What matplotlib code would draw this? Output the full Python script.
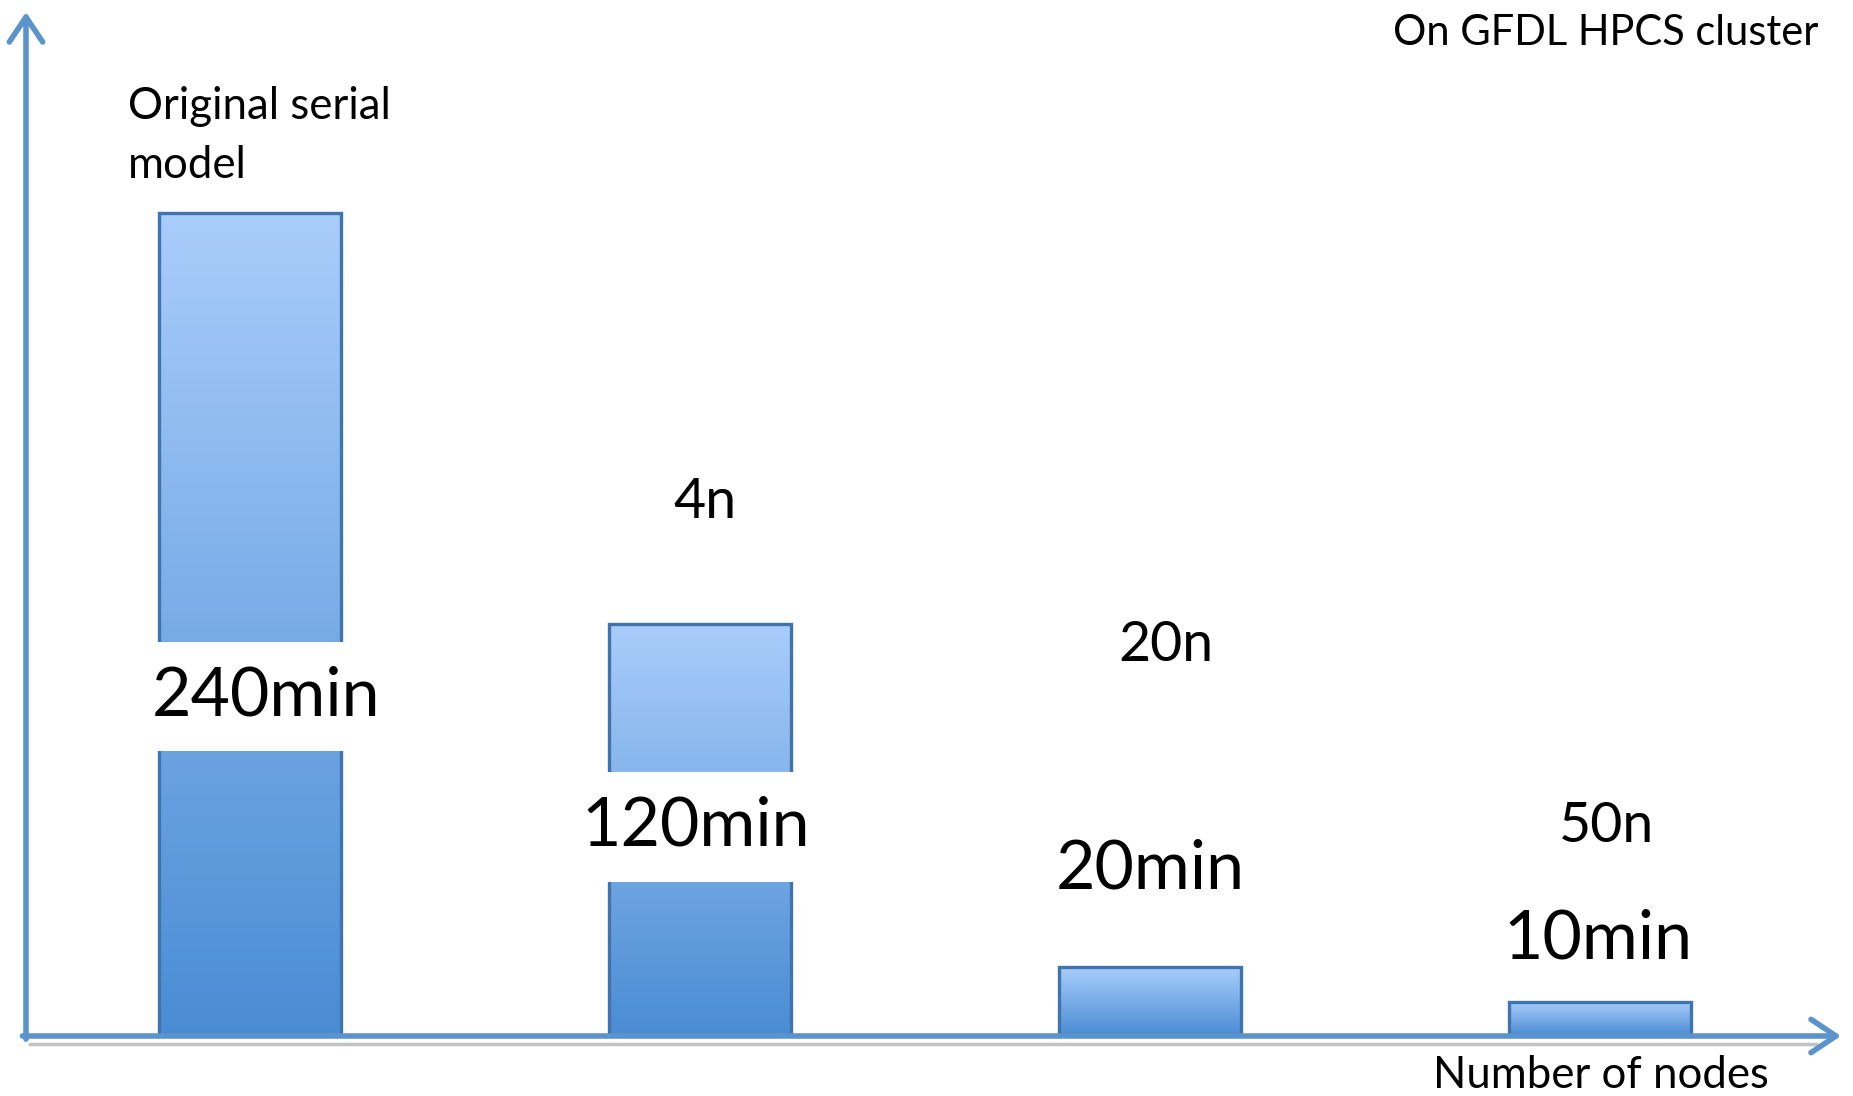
import matplotlib.pyplot as plt
import numpy as np
from matplotlib.colors import LinearSegmentedColormap

plt.rcParams['font.family'] = ['Lato', 'DejaVu Sans']

minutes = [240, 120, 20, 10]
time_labels = ['240min', '120min', '20min', '10min']
node_labels = ['', '4n', '20n', '50n']
title_note = 'On GFDL HPCS cluster'
x_title = 'Number of nodes'
first_bar_note = 'Original serial\nmodel'

# label placement (data coords)
time_pos = [(0.035, 99), (-0.01, 61), (0.0, 48.5), (-0.005, 28)]
node_pos = [(0, 0), (0.01, 155.5), (0.035, 114), (0.015, 61)]

axis_col = '#5b93cc'
edge_col = '#3f74ae'
grad = LinearSegmentedColormap.from_list('bar', ['#4a8cd3', '#a9cdfb'])


def draw_bars(ax, xs, vals, width):
    g = np.linspace(0, 1, 256).reshape(-1, 1)
    for x, v in zip(xs, vals):
        rect = plt.Rectangle((x - width / 2, 0), width, v, facecolor='none',
                             edgecolor=edge_col, lw=2.4, zorder=3)
        ax.add_patch(rect)
        im = ax.imshow(g, cmap=grad, aspect='auto', origin='lower',
                       extent=(x - width / 2, x + width / 2, 0, v), zorder=2)
        im.set_clip_path(rect)


def main():
    fig = plt.figure(figsize=(18.53, 10.96), dpi=100)
    ax = fig.add_axes([26 / 1853, 60 / 1096, 1815 / 1853, 1024 / 1096])
    ax.set_xlim(-0.498, 3.536)
    ax.set_ylim(0, 298.6)
    ax.axis('off')

    xs = np.arange(len(minutes))
    draw_bars(ax, xs, minutes, 0.405)

    # axes with arrow heads
    aprops = dict(arrowstyle='->, head_length=0.6, head_width=0.4',
                  lw=4, color=axis_col, mutation_scale=30, shrinkA=0, shrinkB=0)
    ax.annotate('', xy=(0, 1), xytext=(0, -0.003), xycoords='axes fraction',
                arrowprops=aprops, zorder=5)
    ax.annotate('', xy=(1, 0), xytext=(-0.002, 0), xycoords='axes fraction',
                arrowprops=aprops, zorder=5)
    ax.plot([-0.49, 3.48], [-2.2, -2.2], color='#9a9a9a', lw=2.5, alpha=0.6,
            clip_on=False, zorder=1)

    for lab, (dx, y), x in zip(time_labels, time_pos, xs):
        ax.text(x + dx, y, lab, ha='center', va='center', fontsize=49,
                zorder=6, bbox=dict(facecolor='white', edgecolor='none', pad=17))
    for lab, (dx, y), x in zip(node_labels, node_pos, xs):
        if lab:
            ax.text(x + dx, y, lab, ha='center', va='center', fontsize=40, zorder=6)

    fig.text(128 / 1853, 1 - 136 / 1096, first_bar_note, ha='left', va='center',
             fontsize=31.5, linespacing=1.55)
    fig.text(1818 / 1853, 1 - 33 / 1096, title_note, ha='right', va='center',
             fontsize=30)
    fig.text(1601 / 1853, 1 - 1075 / 1096, x_title, ha='center', va='center',
             fontsize=31.5)

    fig.savefig('out.png', dpi=100, facecolor='white')


if __name__ == '__main__':
    main()
